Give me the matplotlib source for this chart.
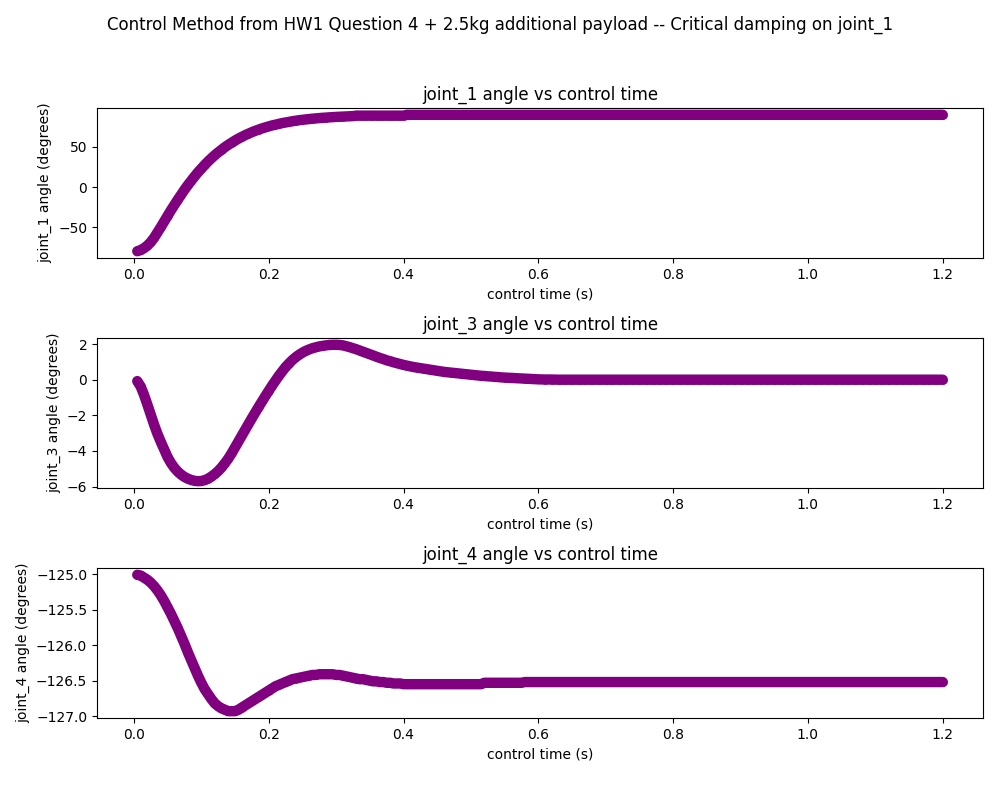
import matplotlib
matplotlib.use("Agg")
import matplotlib.pyplot as plt

# control time (s): 5 ms samples through the transient, 10 ms after that
control_time = [
    0.005, 0.010, 0.015, 0.020, 0.025, 0.030, 0.035, 0.040, 0.045, 0.050,
    0.055, 0.060, 0.065, 0.070, 0.075, 0.080, 0.085, 0.090, 0.095, 0.100,
    0.105, 0.110, 0.115, 0.120, 0.125, 0.130, 0.135, 0.140, 0.145, 0.150,
    0.155, 0.160, 0.165, 0.170, 0.175, 0.180, 0.185, 0.190, 0.195, 0.200,
    0.205, 0.210, 0.215, 0.220, 0.225, 0.230, 0.235, 0.240, 0.245, 0.250,
    0.255, 0.260, 0.265, 0.270, 0.275, 0.280, 0.285, 0.290, 0.295, 0.300,
    0.305, 0.310, 0.315, 0.320, 0.325, 0.330, 0.335, 0.340, 0.345, 0.350,
    0.355, 0.360, 0.365, 0.370, 0.375, 0.380, 0.385, 0.390, 0.395, 0.400,
    0.405, 0.410, 0.415, 0.420, 0.425, 0.430, 0.435, 0.440, 0.445, 0.450,
    0.455, 0.460, 0.465, 0.470, 0.475, 0.480, 0.485, 0.490, 0.495, 0.500,
    0.505, 0.510, 0.515, 0.520, 0.525, 0.530, 0.535, 0.540, 0.545, 0.550,
    0.555, 0.560, 0.565, 0.570, 0.575, 0.580, 0.585, 0.590, 0.595, 0.600,
    0.61, 0.62, 0.63, 0.64, 0.65, 0.66, 0.67, 0.68, 0.69, 0.70,
    0.71, 0.72, 0.73, 0.74, 0.75, 0.76, 0.77, 0.78, 0.79, 0.80,
    0.81, 0.82, 0.83, 0.84, 0.85, 0.86, 0.87, 0.88, 0.89, 0.90,
    0.91, 0.92, 0.93, 0.94, 0.95, 0.96, 0.97, 0.98, 0.99, 1.00,
    1.01, 1.02, 1.03, 1.04, 1.05, 1.06, 1.07, 1.08, 1.09, 1.10,
    1.11, 1.12, 1.13, 1.14, 1.15, 1.16, 1.17, 1.18, 1.19, 1.20,
]

joint_1_angle = [
    -79.6, -78.2, -75.8, -72.6, -68.3, -62.8, -56.2, -49.5, -42.5, -35.5,
    -28.6, -22.0, -15.6, -9.4, -3.2, 2.6, 8.1, 13.4, 18.5, 23.2,
    27.7, 32.0, 36.0, 39.8, 43.3, 46.6, 49.8, 52.7, 55.4, 58.0,
    60.4, 62.6, 64.7, 66.6, 68.4, 70.1, 71.6, 73.1, 74.4, 75.6,
    76.8, 77.8, 78.8, 79.7, 80.5, 81.3, 82.0, 82.7, 83.3, 83.8,
    84.3, 84.8, 85.2, 85.6, 86.0, 86.3, 86.6, 86.9, 87.2, 87.4,
    87.6, 87.8, 88.0, 88.2, 88.4, 89.0, 89.0, 89.0, 89.0, 89.0,
    89.0, 89.0, 89.0, 89.0, 89.0, 89.0, 89.0, 89.0, 89.0, 89.0,
    90.0, 90.0, 90.0, 90.0, 90.0, 90.0, 90.0, 90.0, 90.0, 90.0,
    90.0, 90.0, 90.0, 90.0, 90.0, 90.0, 90.0, 90.0, 90.0, 90.0,
    90.0, 90.0, 90.0, 90.0, 90.0, 90.0, 90.0, 90.0, 90.0, 90.0,
    90.0, 90.0, 90.0, 90.0, 90.0, 90.0, 90.0, 90.0, 90.0, 90.0,
    90.0, 90.0, 90.0, 90.0, 90.0, 90.0, 90.0, 90.0, 90.0, 90.0,
    90.0, 90.0, 90.0, 90.0, 90.0, 90.0, 90.0, 90.0, 90.0, 90.0,
    90.0, 90.0, 90.0, 90.0, 90.0, 90.0, 90.0, 90.0, 90.0, 90.0,
    90.0, 90.0, 90.0, 90.0, 90.0, 90.0, 90.0, 90.0, 90.0, 90.0,
    90.0, 90.0, 90.0, 90.0, 90.0, 90.0, 90.0, 90.0, 90.0, 90.0,
    90.0, 90.0, 90.0, 90.0, 90.0, 90.0, 90.0, 90.0, 90.0, 90.0,
]

joint_3_angle = [
    -0.08, -0.38, -0.85, -1.40, -1.97, -2.53, -3.05, -3.50, -3.92, -4.35,
    -4.68, -4.95, -5.16, -5.33, -5.46, -5.56, -5.63, -5.68, -5.70, -5.69,
    -5.64, -5.56, -5.44, -5.30, -5.13, -4.93, -4.69, -4.43, -4.13, -3.80,
    -3.46, -3.13, -2.80, -2.48, -2.16, -1.84, -1.53, -1.22, -0.92, -0.62,
    -0.33, -0.05, 0.22, 0.47, 0.71, 0.91, 1.10, 1.26, 1.40, 1.52,
    1.62, 1.70, 1.77, 1.82, 1.87, 1.90, 1.93, 1.95, 1.96, 1.96,
    1.95, 1.93, 1.88, 1.83, 1.77, 1.71, 1.64, 1.57, 1.50, 1.43,
    1.36, 1.29, 1.22, 1.16, 1.09, 1.04, 0.98, 0.93, 0.88, 0.83,
    0.79, 0.75, 0.71, 0.68, 0.65, 0.62, 0.59, 0.56, 0.53, 0.50,
    0.47, 0.44, 0.42, 0.40, 0.38, 0.36, 0.34, 0.32, 0.30, 0.28,
    0.26, 0.24, 0.22, 0.21, 0.19, 0.18, 0.16, 0.15, 0.13, 0.12,
    0.11, 0.10, 0.09, 0.08, 0.07, 0.06, 0.05, 0.04, 0.03, 0.02,
    0.01, 0.01, 0.0, 0.0, 0.0, 0.0, 0.0, 0.0, 0.0, 0.0,
    0.0, 0.0, 0.0, 0.0, 0.0, 0.0, 0.0, 0.0, 0.0, 0.0,
    0.0, 0.0, 0.0, 0.0, 0.0, 0.0, 0.0, 0.0, 0.0, 0.0,
    0.0, 0.0, 0.0, 0.0, 0.0, 0.0, 0.0, 0.0, 0.0, 0.0,
    0.0, 0.0, 0.0, 0.0, 0.0, 0.0, 0.0, 0.0, 0.0, 0.0,
    0.0, 0.0, 0.0, 0.0, 0.0, 0.0, 0.0, 0.0, 0.0, 0.0,
]

joint_4_angle = [
    -125.01, -125.02, -125.05, -125.08, -125.12, -125.17, -125.23, -125.30, -125.38, -125.47,
    -125.56, -125.66, -125.76, -125.87, -125.98, -126.10, -126.21, -126.32, -126.43, -126.53,
    -126.62, -126.69, -126.76, -126.82, -126.86, -126.89, -126.91, -126.93, -126.93, -126.93,
    -126.91, -126.88, -126.85, -126.82, -126.79, -126.76, -126.73, -126.70, -126.67, -126.64,
    -126.61, -126.58, -126.56, -126.54, -126.52, -126.50, -126.48, -126.47, -126.46, -126.45,
    -126.44, -126.43, -126.42, -126.42, -126.41, -126.41, -126.41, -126.41, -126.41, -126.42,
    -126.42, -126.43, -126.44, -126.45, -126.46, -126.47, -126.48, -126.48, -126.49, -126.50,
    -126.51, -126.51, -126.52, -126.52, -126.53, -126.53, -126.54, -126.54, -126.54, -126.55,
    -126.55, -126.55, -126.55, -126.55, -126.55, -126.55, -126.55, -126.55, -126.55, -126.55,
    -126.55, -126.55, -126.55, -126.55, -126.55, -126.55, -126.55, -126.55, -126.55, -126.55,
    -126.55, -126.55, -126.55, -126.53, -126.53, -126.53, -126.53, -126.53, -126.53, -126.53,
    -126.53, -126.53, -126.53, -126.53, -126.53, -126.52, -126.52, -126.52, -126.52, -126.52,
    -126.52, -126.52, -126.52, -126.52, -126.52, -126.52, -126.52, -126.52, -126.52, -126.52,
    -126.52, -126.52, -126.52, -126.52, -126.52, -126.52, -126.52, -126.52, -126.52, -126.52,
    -126.52, -126.52, -126.52, -126.52, -126.52, -126.52, -126.52, -126.52, -126.52, -126.52,
    -126.52, -126.52, -126.52, -126.52, -126.52, -126.52, -126.52, -126.52, -126.52, -126.52,
    -126.52, -126.52, -126.52, -126.52, -126.52, -126.52, -126.52, -126.52, -126.52, -126.52,
    -126.52, -126.52, -126.52, -126.52, -126.52, -126.52, -126.52, -126.52, -126.52, -126.52,
]

joint_names = ["joint_1", "joint_3", "joint_4"]
joint_angles = [joint_1_angle, joint_3_angle, joint_4_angle]


def _draw_joint(ax, joint_name, angles):
    """Scatter one joint's angle against control time.

    The samples in the original are so dense that they merge into one thick band,
    so a line as wide as the markers runs underneath them.
    """
    ax.plot(control_time, angles, color="purple", linewidth=7.5,
            solid_capstyle="round", solid_joinstyle="round", zorder=1)
    ax.scatter(control_time, angles, color="purple", s=36, linewidths=0, zorder=2)
    ax.set_title(joint_name + " angle vs control time")
    ax.set_xlabel("control time (s)")
    ax.set_ylabel(joint_name + " angle (degrees)")


def create_joint_plots():
    fig, axes = plt.subplots(3, 1, figsize=(10, 8), dpi=100)
    fig.suptitle("Control Method from HW1 Question 4 + 2.5kg additional payload "
                 "-- Critical damping on joint_1", y=0.98)

    for ax, name, angles in zip(axes, joint_names, joint_angles):
        _draw_joint(ax, name, angles)

    fig.subplots_adjust(left=0.097, right=0.983, top=0.865, bottom=0.1025, hspace=0.533)
    fig.savefig("out.png")


if __name__ == "__main__":
    create_joint_plots()
